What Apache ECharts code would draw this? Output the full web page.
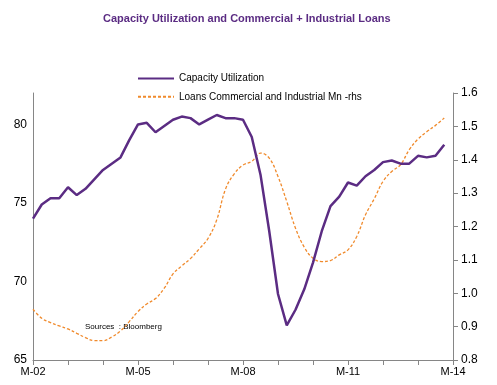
<!DOCTYPE html>
<html><head><meta charset="utf-8">
<script src="https://cdn.jsdelivr.net/npm/echarts@6/dist/echarts.min.js"></script>
<style>html,body{margin:0;padding:0;background:#fff}#c{width:497px;height:385px}</style>
</head><body><div id="c"></div>
<script>
// Quarterly categories 2002Q1 .. 2014Q1
const quarters = [];
for (let y = 2002; y <= 2014; y++) { for (let q = 1; q <= 4; q++) { quarters.push(y + 'Q' + q); if (y === 2014) break; } }
const xTickLabels = {'2002Q1':'M-02','2005Q1':'M-05','2008Q1':'M-08','2011Q1':'M-11','2014Q1':'M-14'};

const capacityUtilization = [
  74.0, 74.9, 75.3, 75.3, 76.0, 75.5, 75.9, 76.5, 77.1, 77.5, 77.9, 79.0,
  80.0, 80.1, 79.5, 79.9, 80.3, 80.5, 80.4, 80.0, 80.3, 80.6, 80.4, 80.4,
  80.3, 79.2, 76.8, 73.2, 69.2, 67.2, 68.2, 69.5, 71.2, 73.2, 74.8, 75.4,
  76.3, 76.1, 76.7, 77.1, 77.6, 77.7, 77.5, 77.5, 78.0, 77.9, 78.0, 78.7
];
const loansCI = [
  0.952, 0.925, 0.912, 0.902, 0.893, 0.880, 0.867, 0.858, 0.858, 0.869, 0.887, 0.915,
  0.945, 0.968, 0.984, 1.015, 1.058, 1.082, 1.104, 1.133, 1.164, 1.220, 1.312, 1.358,
  1.384, 1.395, 1.420, 1.405, 1.350, 1.275, 1.195, 1.138, 1.105, 1.095, 1.098, 1.115,
  1.130, 1.170, 1.235, 1.283, 1.335, 1.365, 1.385, 1.430, 1.462, 1.484, 1.503, 1.525
];
const leftTicks = {min: 65, max: 82, interval: 5};
const rightTicks = {min: 0.8, max: 1.6, interval: 0.1};

const chart = echarts.init(document.getElementById('c'), null, {renderer: 'canvas'});
const font = 'Liberation Sans, Arial, sans-serif';
chart.setOption({
  animation: false,
  backgroundColor: '#fff',
  title: {
    text: 'Capacity Utilization and Commercial + Industrial Loans',
    left: 98, top: 8,
    textStyle: {fontFamily: font, fontSize: 11, fontWeight: 'bold', color: '#5B2C83'}
  },
  legend: {
    orient: 'vertical', left: 137, top: 73, padding: 0, itemWidth: 36, itemHeight: 14, itemGap: 7,
    itemStyle: {opacity: 0},
    textStyle: {fontFamily: font, fontSize: 10, color: '#000'},
    data: ['Capacity Utilization', 'Loans Commercial and Industrial Mn -rhs']
  },
  grid: {left: 33, right: 44, top: 93, bottom: 25},
  xAxis: {
    type: 'category', data: quarters, boundaryGap: false,
    axisLine: {lineStyle: {color: '#868686', width: 1}},
    axisTick: {interval: 3, length: 5, lineStyle: {color: '#868686'}},
    axisLabel: {interval: 11, color: '#000', fontFamily: font, fontSize: 11, margin: 6,
      formatter: v => xTickLabels[v] || ''},
    splitLine: {show: false}
  },
  yAxis: [{
    type: 'value', min: leftTicks.min, max: leftTicks.max, interval: leftTicks.interval,
    axisLine: {show: true, lineStyle: {color: '#868686'}},
    axisTick: {show: false},
    axisLabel: {color: '#000', fontFamily: font, fontSize: 12, margin: 6, showMaxLabel: false},
    splitLine: {show: false}
  }, {
    type: 'value', position: 'right', min: rightTicks.min, max: rightTicks.max, interval: rightTicks.interval,
    axisLine: {show: true, lineStyle: {color: '#868686'}},
    axisTick: {show: true, length: 5, lineStyle: {color: '#868686'}},
    axisLabel: {color: '#000', fontFamily: font, fontSize: 12, margin: 8, formatter: v => v.toFixed(1)},
    splitLine: {show: false}
  }],
  series: [{
    name: 'Loans Commercial and Industrial Mn -rhs', type: 'line', yAxisIndex: 1,
    data: loansCI, symbol: 'none', smooth: 0.4,
    lineStyle: {color: '#F08A2C', width: 1.3, type: [3, 2]},
    itemStyle: {color: '#F08A2C'}
  }, {
    name: 'Capacity Utilization', type: 'line', yAxisIndex: 0,
    data: capacityUtilization, symbol: 'none', smooth: false,
    lineStyle: {color: '#5B2C83', width: 2.5},
    itemStyle: {color: '#5B2C83'}
  }],
  graphic: [{
    type: 'text', left: 85, top: 323,
    style: {text: 'Sources  : Bloomberg', fontFamily: font, fontSize: 8, fill: '#000'}
  }]
});
</script></body></html>
